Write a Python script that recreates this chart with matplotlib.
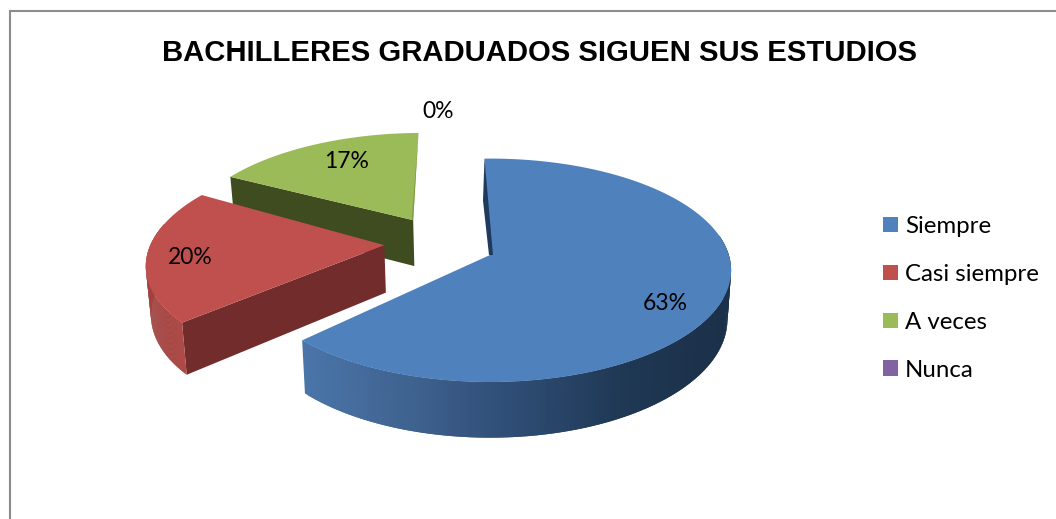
import numpy as np
import matplotlib
matplotlib.use("Agg")
import matplotlib.pyplot as plt
from matplotlib.patches import Polygon, Patch
from matplotlib.colors import LinearSegmentedColormap

TITLE = "BACHILLERES GRADUADOS SIGUEN SUS ESTUDIOS"
categories = ["Siempre", "Casi siempre", "A veces", "Nunca"]
values = [63, 20, 17, 0]
colors = ["#4f81bd", "#c0504d", "#9bbb59", "#8064a2"]
cut_colors = ["#1f3a5c", "#722c2c", "#3f4c20", "#4a3a60"]
offsets = [(0.0, 0.0), (-0.445, 0.09), (-0.334, 0.33), (0.0, 0.0)]
radii = [0.993, 0.985, 0.975, 1.0]
rotations = [-1.5, 1.5, -1.0, 0.0]
label_xy = [(665, 304), (190, 257), (347, 161), (438, 111)]

W, H = 1056, 519
CX, CY, A, B, K = 490.0, 255.0, 240.5, 110.4, 0.138
DEPTH, SHRINK = 48.0, 0.985


def project(u, v):
    s = 1.0 / (1.0 + K * v)
    return CX + A * u * s, CY - B * v * s


def lower(u, v):
    x, y = project(u, v)
    s = 1.0 / (1.0 + K * v)
    return CX + (x - CX) * SHRINK, y + DEPTH * s


blue_wall = LinearSegmentedColormap.from_list(
    "b", ["#4a75a9", "#3f628f", "#2e4c74", "#1f3854", "#1b3049"])
red_wall = LinearSegmentedColormap.from_list("r", ["#a04340", "#b04b48"])

fig = plt.figure(figsize=(W / 100, H / 100), dpi=100)
ax = fig.add_axes([0, 0, 1, 1])
ax.set_xlim(0, W)
ax.set_ylim(H, 0)
ax.axis("off")

ax.plot([10, 10, W], [H, 11, 11], color="#8c8c8c", lw=1.5, solid_joinstyle="miter")

# slice angles, clockwise from the top
fractions = np.array(values, dtype=float) / sum(values)
ends = np.cumsum(fractions) * 2 * np.pi
starts = ends - fractions * 2 * np.pi

for i in [2, 1, 0]:
    turn = np.radians(rotations[i])
    t = np.linspace(starts[i] + turn, ends[i] + turn, 240)
    ou, ov = offsets[i]
    u = ou + radii[i] * np.sin(t)
    v = ov + radii[i] * np.cos(t)
    base = 2 + 3 * (2 - i)
    a_top = project(ou, ov)

    # flat cut wall along the starting edge of the exploded slices
    if i in (1, 2):
        wall = [project(u[0], v[0]), a_top, lower(ou, ov), lower(u[0], v[0])]
        ax.add_patch(Polygon(wall, closed=True, fc=cut_colors[i], ec="none", zorder=base))

    # curved outer wall, seen only on the near side
    if i in (0, 1):
        for j in range(len(t) - 2):
            if np.cos(t[j]) > 0.2:
                continue
            q = [project(u[j], v[j]), project(u[j + 2], v[j + 2]),
                 lower(u[j + 2], v[j + 2]), lower(u[j], v[j])]
            if i == 0:
                c = blue_wall(np.clip((q[0][0] - 306) / (731 - 306), 0, 1))
            else:
                c = red_wall(np.clip((q[0][0] - 148) / 40, 0, 1))
            ax.add_patch(Polygon(q, closed=True, fc=c, ec="none", zorder=base))

    # top face
    x, y = project(u, v)
    pts = np.column_stack([np.r_[a_top[0], x], np.r_[a_top[1], y]])
    ax.add_patch(Polygon(pts, closed=True, fc=colors[i], ec="none", zorder=base + 1))

    if i == 0:
        # thin dark sliver of the cut face along the start edge
        ox, oy = project(u[0], v[0])
        ax.add_patch(Polygon([(ox, oy), (a_top[0] + 3, a_top[1]), (a_top[0] - 1, a_top[1]),
                              (ox - 1.5, oy + 42)], closed=True, fc="#1f3a5c", ec="none",
                             zorder=base + 2))
    if i == 2:
        ox, oy = project(u[-1], v[-1])
        ax.add_patch(Polygon([(ox, oy), a_top, (a_top[0] - 1.5, a_top[1])], closed=True,
                             fc="#7d9a45", ec="none", zorder=base + 1))

ax.text(539, 53, TITLE, family="Liberation Sans", weight="bold", fontsize=21.1,
        ha="center", va="center", color="black", zorder=20)

for val, xy in zip(values, label_xy):
    ax.text(xy[0], xy[1], f"{val}%", family="Lato", fontsize=16.5,
            ha="center", va="center", color="black", zorder=20)

handles = [Patch(fc=c, ec="none") for c in colors]
ax.legend(handles, categories, loc="upper left", bbox_to_anchor=(883 / W, 1 - 216 / H),
          frameon=False, prop={"family": "Lato", "size": 17.3},
          handlelength=0.63, handleheight=0.63, handletextpad=0.29,
          labelspacing=1.12, borderaxespad=0, borderpad=0)

fig.savefig("out.png", dpi=100)
